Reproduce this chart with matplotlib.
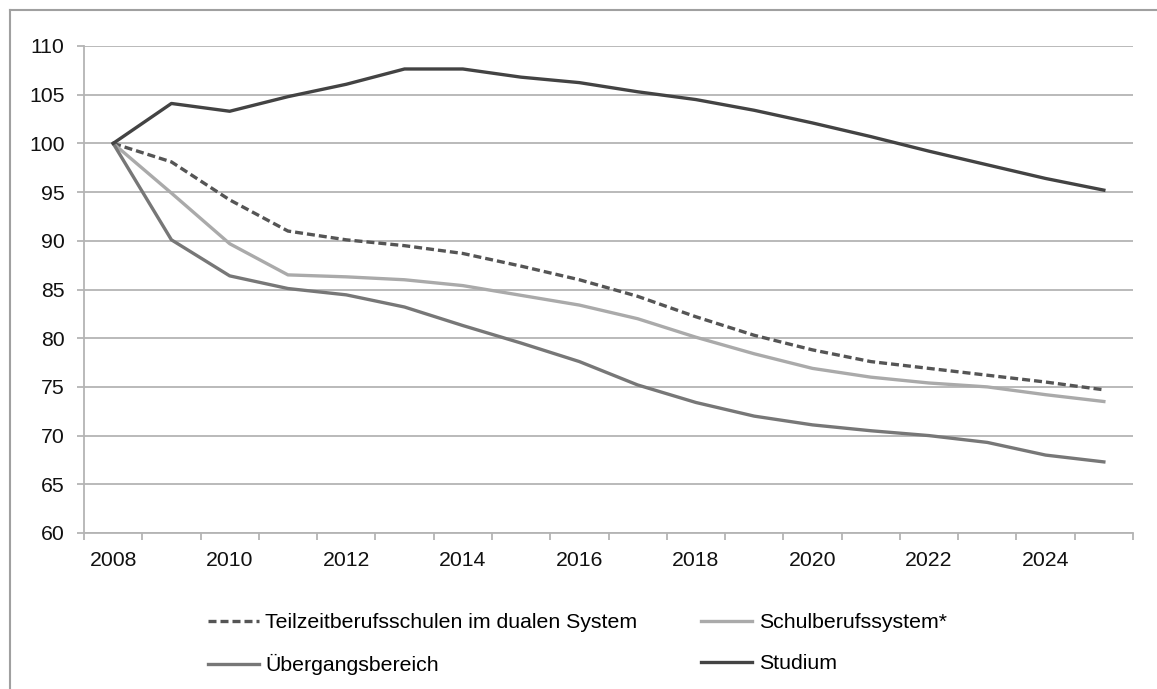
import matplotlib
matplotlib.use("Agg")
import matplotlib.pyplot as plt
from matplotlib.lines import Line2D

plt.rcParams["font.family"] = ["Liberation Sans", "DejaVu Sans"]

# Index values (2008 = 100)
years = list(range(2008, 2026))
teilzeit = [100, 98.1, 94.2, 91.0, 90.1, 89.5, 88.7, 87.4, 86.0, 84.3,
            82.2, 80.3, 78.8, 77.6, 76.9, 76.2, 75.5, 74.7]
schulberuf = [100, 94.9, 89.7, 86.5, 86.3, 86.0, 85.4, 84.4, 83.4, 82.0,
              80.1, 78.4, 76.9, 76.0, 75.4, 75.0, 74.2, 73.5]
uebergang = [100, 90.1, 86.4, 85.1, 84.45, 83.2, 81.3, 79.5, 77.6, 75.2,
             73.4, 72.0, 71.1, 70.5, 70.0, 69.3, 68.0, 67.3]
studium = [100, 104.1, 103.3, 104.8, 106.07, 107.64, 107.64, 106.8, 106.24, 105.3,
           104.5, 103.4, 102.1, 100.7, 99.2, 97.8, 96.4, 95.2]

labels = ["Teilzeitberufsschulen im dualen System", "Schulberufssystem*",
          "Übergangsbereich", "Studium"]
y_ticks = list(range(60, 111, 5))

W, H = 1157, 689
fig = plt.figure(figsize=(W / 100, H / 100), dpi=100)
ax = fig.add_axes([84 / W, 1 - 533 / H, (1133 - 84) / W, (533 - 46) / H])

x = list(range(len(years)))
grid_c = "#b4b4b4"
fs = 15.3

l1, = ax.plot(x, teilzeit, color="#555555", lw=2.4, ls=(0, (2.4, 1.2)),
              solid_capstyle="butt", label=labels[0], zorder=3)
l2, = ax.plot(x, schulberuf, color="#aaaaaa", lw=2.4, label=labels[1], zorder=3)
l3, = ax.plot(x, uebergang, color="#777777", lw=2.4, label=labels[2], zorder=3)
l4, = ax.plot(x, studium, color="#434343", lw=2.4, label=labels[3], zorder=4)

ax.set_xlim(-0.5, len(years) - 0.5)
ax.set_ylim(60, 110)
ax.set_yticks(y_ticks)
ax.set_yticklabels([str(v) for v in y_ticks])
ax.yaxis.grid(True, color=grid_c, lw=1.3)
ax.set_axisbelow(True)

# category axis: ticks at boundaries, labels at centres (every second year)
ax.set_xticks([i - 0.5 for i in range(len(years) + 1)])
ax.set_xticklabels([])
ax.set_xticks(x[::2], minor=True)
ax.set_xticklabels([str(y) for y in years[::2]], minor=True)
ax.tick_params(axis="x", which="major", length=5, color=grid_c, width=1.3)
ax.tick_params(axis="x", which="minor", length=0, pad=13, labelsize=fs,
               labelcolor="#111111")
ax.tick_params(axis="y", length=5, color=grid_c, width=1.3, pad=9,
               labelsize=fs, labelcolor="#111111")

for side in ["top", "right"]:
    ax.spines[side].set_visible(False)
for side in ["left", "bottom"]:
    ax.spines[side].set_color(grid_c)
    ax.spines[side].set_linewidth(1.3)

# legend filled row by row (matplotlib fills columns first)
fig.legend([l1, l3, l2, l4], [labels[0], labels[2], labels[1], labels[3]],
           ncol=2, loc="upper left",
           bbox_to_anchor=(208 / W, 1 - 613 / H), frameon=False,
           fontsize=fs, handlelength=2.4, handletextpad=0.3,
           columnspacing=3.0, labelspacing=1.05, borderaxespad=0,
           borderpad=0)

# outer chart frame (clipped at right and bottom)
fig.add_artist(Line2D([9.5 / W, 9.5 / W], [0, 1 - 10 / H],
                      transform=fig.transFigure, color="#a0a0a0", lw=1.5))
fig.add_artist(Line2D([9.5 / W, 1], [1 - 10 / H, 1 - 10 / H],
                      transform=fig.transFigure, color="#a0a0a0", lw=1.5))

fig.savefig("out.png", dpi=100)
